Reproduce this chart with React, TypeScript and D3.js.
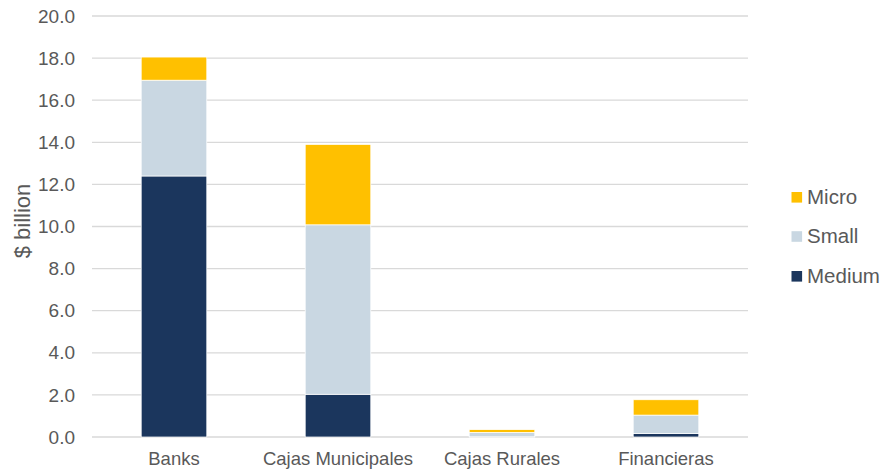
import React from "react";
import * as d3 from "d3";

const categories = ["Banks", "Cajas Municipales", "Cajas Rurales", "Financieras"];
const medium = [12.4, 2.03, 0.01, 0.16];
const small = [4.55, 8.05, 0.21, 0.88];
const micro = [1.1, 3.82, 0.13, 0.73];
const yTicks = [0, 2, 4, 6, 8, 10, 12, 14, 16, 18, 20];
const seriesNames = ["Medium", "Small", "Micro"];
const colors = ["#1B365D", "#C9D7E2", "#FFC000"];

export default function App() {
  const W = 882, H = 470;
  const left = 92, right = 748, top = 16, bottom = 437;
  const x = d3.scaleBand().domain(categories).range([left, right]).paddingInner(0.6).paddingOuter(0.3);
  const y = d3.scaleLinear().domain([0, 20]).range([bottom, top]);
  const rows = categories.map((c, i) => ({ cat: c, Medium: medium[i], Small: small[i], Micro: micro[i] }));
  const stacked = d3.stack<any>().keys(seriesNames)(rows);
  const font = "'Liberation Sans', Arial, sans-serif";
  const legendOrder = [2, 1, 0];
  const legendY = [197.3, 236.5, 276.3];
  return (
    <svg width={W} height={H} style={{ position: "absolute", left: 0, top: 0 }} fontFamily={font}>
      <rect width={W} height={H} fill="#fff" />
      {yTicks.map(t => (
        <g key={t}>
          <line x1={left} x2={right} y1={y(t)} y2={y(t)} stroke="#D9D9D9" strokeWidth={1.3} />
          <text x={75} y={y(t)} dy="0.35em" textAnchor="end" fontSize={19} fill="#595959">{t.toFixed(1)}</text>
        </g>
      ))}
      {stacked.map((s, si) => (
        <g key={s.key} fill={colors[si]}>
          {s.map((d, i) => (
            <rect key={i} x={x(categories[i])} width={x.bandwidth()} y={y(d[1])} height={Math.max(0, y(d[0]) - y(d[1]))} stroke="#fff" strokeWidth={0.75} />
          ))}
        </g>
      ))}
      {categories.map(c => (
        <text key={c} x={(x(c) as number) + x.bandwidth() / 2} y={465} textAnchor="middle" fontSize={18.5} fill="#595959">{c}</text>
      ))}
      <text transform={`translate(29.5,221) rotate(-90)`} textAnchor="middle" fontSize={22} fill="#595959">$ billion</text>
      {legendOrder.map((si, k) => (
        <g key={si}>
          <rect x={791.5} y={legendY[k] - 5.3} width={10.6} height={10.6} fill={colors[si]} />
          <text x={807} y={legendY[k] + 6.3} fontSize={20.5} fill="#595959">{seriesNames[si]}</text>
        </g>
      ))}
    </svg>
  );
}
